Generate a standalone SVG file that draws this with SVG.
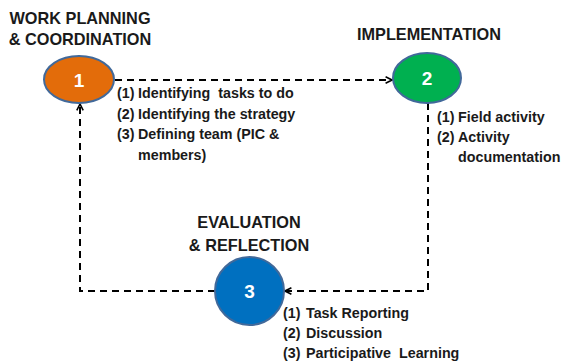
<svg xmlns="http://www.w3.org/2000/svg" width="565" height="364" viewBox="0 0 565 364">
<defs>
<style>
.title{font-family:"Liberation Sans",Arial,sans-serif;font-weight:bold;font-size:16.3px;fill:#1a1a1a;text-anchor:middle}
.body{font-family:"Liberation Sans",Arial,sans-serif;font-weight:bold;font-size:14.3px;fill:#1a1a1a;white-space:pre}
.num{font-family:"Liberation Sans",Arial,sans-serif;font-weight:bold;font-size:19px;fill:#ffffff;text-anchor:middle}
.node{stroke:#41699A;stroke-width:2}
.conn{fill:none;stroke:#000;stroke-width:2;stroke-dasharray:7 5}
</style>
<marker id="arr" viewBox="0 0 10 10" refX="9" refY="5" markerWidth="8" markerHeight="8" markerUnits="userSpaceOnUse" orient="auto">
<path d="M1,1 L9,5 L1,9" fill="none" stroke="#000" stroke-width="2"/>
</marker>
</defs>
<rect width="565" height="364" fill="#ffffff"/>
<g id="connectors">
<path class="conn" d="M115,80 L392,80" marker-end="url(#arr)"/>
<path class="conn" d="M428,103 L428,291 L285,291" marker-end="url(#arr)"/>
<path class="conn" d="M215,291 L80,291 L80,104" marker-end="url(#arr)"/>
</g>
<g id="node1">
<ellipse class="node" cx="79" cy="79.5" rx="35" ry="23.5" fill="#E36C0A"/>
<text class="num" x="79" y="86.5">1</text>
<text class="title" x="80" y="24">WORK PLANNING</text>
<text class="title" x="80" y="45">&amp; COORDINATION</text>
<text class="body" x="117" y="98">(1)</text><text class="body" x="138" y="98" xml:space="preserve">Identifying  tasks to do</text>
<text class="body" x="117" y="118.5">(2)</text><text class="body" x="138" y="118.5">Identifying the strategy</text>
<text class="body" x="117" y="139">(3)</text><text class="body" x="138" y="139">Defining team (PIC &amp;</text>
<text class="body" x="138" y="159.5">members)</text>
</g>
<g id="node2">
<ellipse class="node" cx="427" cy="78" rx="34" ry="25" fill="#00B050"/>
<text class="num" x="427" y="85">2</text>
<text class="title" x="429" y="40">IMPLEMENTATION</text>
<text class="body" x="437" y="122">(1)</text><text class="body" x="458" y="122">Field activity</text>
<text class="body" x="437" y="142">(2)</text><text class="body" x="458" y="142">Activity</text>
<text class="body" x="458" y="162">documentation</text>
</g>
<g id="node3">
<ellipse class="node" cx="249.5" cy="291" rx="34.5" ry="34" fill="#0070C0"/>
<text class="num" x="249.5" y="298">3</text>
<text class="title" x="249" y="228">EVALUATION</text>
<text class="title" x="249" y="251">&amp; REFLECTION</text>
<text class="body" x="283" y="318">(1)</text><text class="body" x="306" y="318">Task Reporting</text>
<text class="body" x="283" y="338">(2)</text><text class="body" x="306" y="338">Discussion</text>
<text class="body" x="283" y="358">(3)</text><text class="body" x="306" y="358" xml:space="preserve">Participative  Learning</text>
</g>
</svg>
